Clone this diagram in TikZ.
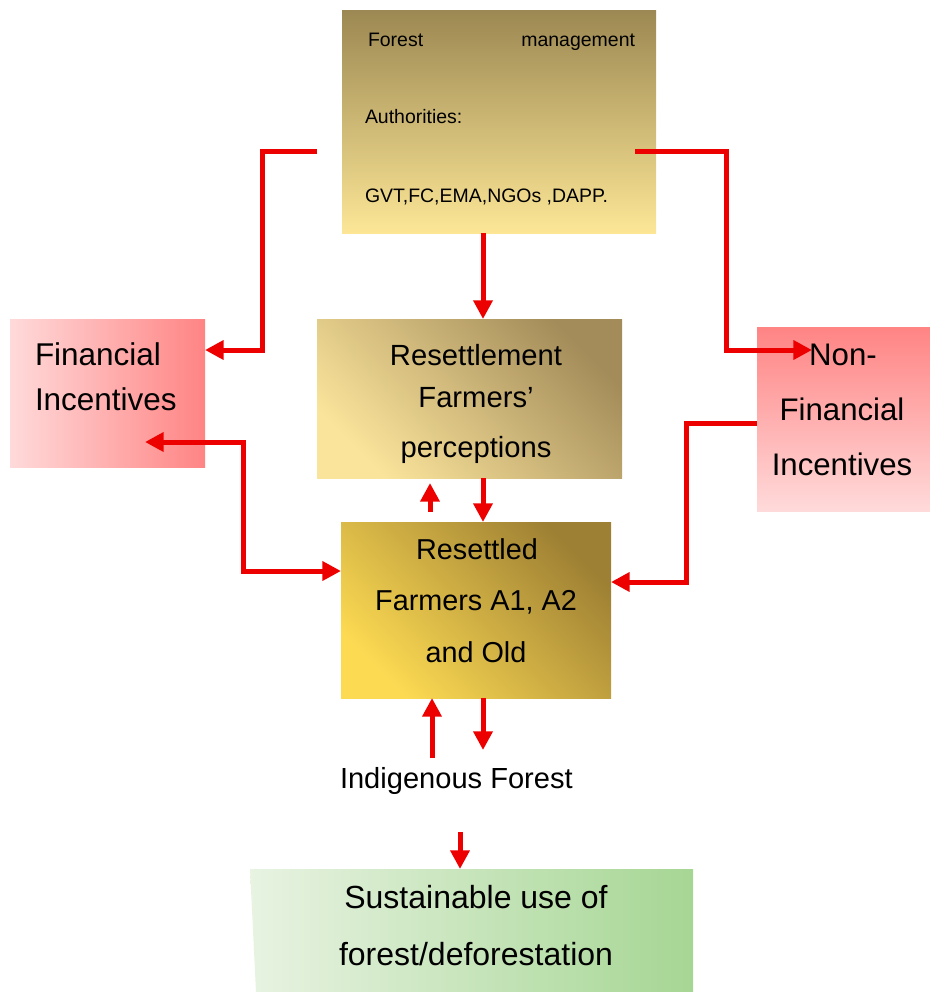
\documentclass[tikz,border=0pt]{standalone}
\usepackage{fontspec}
\setmainfont{Liberation Sans}
\usetikzlibrary{arrows.meta,fit}
\newcommand\fsz[1]{\fontsize{#1}{#1}\selectfont}
\definecolor{arrred}{RGB}{236,0,0}
\definecolor{tanD}{RGB}{156,136,82}
\definecolor{tanL}{RGB}{252,230,150}
\definecolor{rsD}{RGB}{164,140,90}
\definecolor{rsL}{RGB}{250,228,155}
\definecolor{goD}{RGB}{158,128,52}
\definecolor{goL}{RGB}{252,218,82}
\definecolor{pkD}{RGB}{255,132,132}
\definecolor{pkL}{RGB}{255,218,218}
\definecolor{grL}{RGB}{232,243,226}
\definecolor{grD}{RGB}{166,214,148}
\tikzset{
  arr/.style={draw=arrred, line width=3.75pt, -{Triangle[length=14pt,width=14pt]}},
  arrb/.style={draw=arrred, line width=3.75pt, {Triangle[length=14pt,width=14pt]}-{Triangle[length=14pt,width=14pt]}},
  boxn/.style={inner sep=0pt, outer sep=0pt},
  lbl/.style={anchor=base, inner sep=0pt, outer sep=0pt},
  lblw/.style={anchor=base west, inner sep=0pt, outer sep=0pt},
}
\begin{document}
\begin{tikzpicture}[x=0.75pt,y=-0.75pt]
\useasboundingbox (0,0) rectangle (930,992);

% boxes
\node[boxn, fit={(342,10)(656,233)}, top color=tanD, bottom color=tanL] (top) {};
\node[boxn, fit={(10,319)(205,467)}, left color=pkL, right color=pkD] (fin) {};
\node[boxn, fit={(317,319)(622,478)}, top color=rsD, bottom color=rsL, shading angle=-45] (res1) {};
\node[boxn, fit={(757,327)(930,511)}, top color=pkD, bottom color=pkL] (nonfin) {};
\node[boxn, fit={(341,522)(611,698)}, top color=goD, bottom color=goL, shading angle=-45] (res2) {};
\shade[left color=grL, right color=grD] (250,869) -- (693,869) -- (693,992) -- (256,992) -- cycle;
\node[boxn, fit={(250,869)(693,992)}] (sus) {};

% free ends
\coordinate (a1s) at (317,151);
\coordinate (a2s) at (635,151);
\coordinate (a2e) at (812,350);
\coordinate (a4s) at (145,442);
\coordinate (a6s) at (430,512);
\coordinate (a6e) at (430,483);
\coordinate (a8s) at (432,758);
\coordinate (a9e) at (483,750);
\coordinate (a10s) at (460,832);

% connectors
\draw[arr] (a1s) -| (262,350) -- (fin.east |- 0,350);
\draw[arr] (a2s) -| (726,350) -- (a2e);
\draw[arr] (top.south -| 483,0) -- (res1.north -| 483,0);
\draw[arrb] (a4s) -| (243,571) -- (res2.west |- 0,571);
\draw[arr] (nonfin.west |- 0,423) -| (686,582) -- (res2.east |- 0,582);
\draw[arr] (a6s) -- (a6e);
\draw[arr] (res1.south -| 483,0) -- (res2.north -| 483,0);
\draw[arr] (a8s) -- (res2.south -| 432,0);
\draw[arr] (res2.south -| 483,0) -- (a9e);
\draw[arr] (a10s) -- (sus.north -| 460,0);

% texts
\node[lblw] (ta) at (368,46) {\fsz{14.6}\makebox[200.25pt][s]{Forest management}};
\node[lblw] (tb) at (365,123) {\fsz{14.6}Authorities:};
\node[lblw] (tc) at (365,202) {\fsz{14.6}GVT,FC,EMA,NGOs ,DAPP.};

\node[lblw] (fa) at (35,365) {\fsz{23.6}Financial};
\node[lblw] (fb) at (35,410) {\fsz{23.6}Incentives};

\node[lbl] (na) at (843,365) {\fsz{23.4}Non-};
\node[lbl] (nb) at (842,420) {\fsz{23.4}Financial};
\node[lbl] (nc) at (842,475) {\fsz{23.4}Incentives};

\node[lbl] (ra) at (476,365) {\fsz{21.9}Resettlement};
\node[lbl] (rb) at (476,407) {\fsz{21.9}Farmers’};
\node[lbl] (rc) at (476,457) {\fsz{21.9}perceptions};

\node[lbl] (sa) at (477,559) {\fsz{21.6}Resettled};
\node[lbl] (sb) at (476,610) {\fsz{21.6}Farmers A1, A2};
\node[lbl] (sc) at (476,662) {\fsz{21.6}and Old};

\node[lblw] (ind) at (340,788) {\fsz{21.8}Indigenous Forest};

\node[lbl] (ua) at (476,908) {\fsz{24}Sustainable use of};
\node[lbl] (ub) at (476,965) {\fsz{24}forest/deforestation};
\end{tikzpicture}
\end{document}
